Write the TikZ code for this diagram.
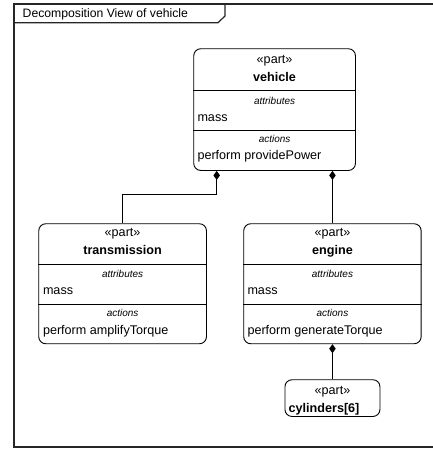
\documentclass[tikz,border=0pt]{standalone}
\usepackage{fontspec}
\setmainfont{Liberation Sans}
\usetikzlibrary{arrows.meta,calc}

\tikzset{
  frameline/.style={draw=black!85, line width=1.2pt},
  partbox/.style={draw=black, line width=0.9pt, rounded corners=7pt,
    anchor=north west, inner sep=0pt},
  divider/.style={draw=black, line width=0.9pt},
  stereo/.style={anchor=mid, inner sep=0pt, font=\fontsize{12.6}{15}\selectfont},
  partname/.style={anchor=mid, inner sep=0pt, font=\fontsize{12.6}{15}\selectfont\bfseries},
  comptitle/.style={anchor=mid, inner sep=0pt, font=\fontsize{10}{12}\selectfont\itshape},
  feature/.style={anchor=mid west, inner sep=0pt, font=\fontsize{12.6}{15}\selectfont},
  composite/.style={{Diamond[length=9pt,width=6.5pt]}-, draw=black, line width=0.9pt}
}

\begin{document}
\begin{tikzpicture}[x=1pt,y=-1pt]
\useasboundingbox (0,0) rectangle (433,450);
\clip (0,0) rectangle (433,450);
\fill[white] (0,0) rectangle (433,450);

% diagram frame and its name tab
\draw[frameline] (440,447) -- (14,447) -- (14,4) -- (440,4);
\draw[frameline] (14,22.7) -- (218,22.7) -- (225,16) -- (225,4);
\node[anchor=mid west, inner sep=0pt, font=\fontsize{12.2}{14}\selectfont] (title)
  at (22.5,15) {Decomposition View of vehicle};

% vehicle
\node[partbox, minimum width=161.7pt, minimum height=121.7pt] (vehicle) at (193.3,48.3) {};
\draw[divider] ($(vehicle.north west)+(0,42.4)$) -- ($(vehicle.north east)+(0,42.4)$);
\draw[divider] ($(vehicle.north west)+(0,81.7)$) -- ($(vehicle.north east)+(0,81.7)$);
\node[stereo]    (vehicle-st)  at ($(vehicle.north)+(0,12.6)$) {«part»};
\node[partname]  (vehicle-nm)  at ($(vehicle.north)+(0,30.5)$) {vehicle};
\node[comptitle] (vehicle-at)  at ($(vehicle.north)+(0,53.4)$) {attributes};
\node[feature]   (vehicle-m)   at ($(vehicle.north west)+(4,70.2)$) {mass};
\node[comptitle] (vehicle-ac)  at ($(vehicle.north)+(0,91.7)$) {actions};
\node[feature]   (vehicle-p)   at ($(vehicle.north west)+(4,108.7)$) {perform providePower};

% transmission
\node[partbox, minimum width=167.7pt, minimum height=120pt] (transmission) at (38.3,223.3) {};
\draw[divider] ($(transmission.north west)+(0,40.7)$) -- ($(transmission.north east)+(0,40.7)$);
\draw[divider] ($(transmission.north west)+(0,80.7)$) -- ($(transmission.north east)+(0,80.7)$);
\node[stereo]    (transmission-st) at ($(transmission.north)+(0,10.5)$) {«part»};
\node[partname]  (transmission-nm) at ($(transmission.north)+(0,29)$) {transmission};
\node[comptitle] (transmission-at) at ($(transmission.north)+(0,51.2)$) {attributes};
\node[feature]   (transmission-m)  at ($(transmission.north west)+(4.5,68.2)$) {mass};
\node[comptitle] (transmission-ac) at ($(transmission.north)+(0,90.8)$) {actions};
\node[feature]   (transmission-p)  at ($(transmission.north west)+(4.5,108.6)$) {perform amplifyTorque};

% engine
\node[partbox, minimum width=177.4pt, minimum height=120pt] (engine) at (243.3,223.3) {};
\draw[divider] ($(engine.north west)+(0,40.7)$) -- ($(engine.north east)+(0,40.7)$);
\draw[divider] ($(engine.north west)+(0,80.7)$) -- ($(engine.north east)+(0,80.7)$);
\node[stereo]    (engine-st) at ($(engine.north)+(0,10.5)$) {«part»};
\node[partname]  (engine-nm) at ($(engine.north)+(0,29)$) {engine};
\node[comptitle] (engine-at) at ($(engine.north)+(0,51.2)$) {attributes};
\node[feature]   (engine-m)  at ($(engine.north west)+(4,68.2)$) {mass};
\node[comptitle] (engine-ac) at ($(engine.north)+(0,90.8)$) {actions};
\node[feature]   (engine-p)  at ($(engine.north west)+(4,108.6)$) {perform generateTorque};

% cylinders
\node[partbox, minimum width=95pt, minimum height=36.7pt] (cylinders) at (284.5,379.3) {};
\node[stereo]   (cylinders-st) at ($(cylinders.north)+(0,12.6)$) {«part»};
\node[anchor=mid west, inner sep=0pt, font=\fontsize{12.6}{15}\selectfont\bfseries]
  (cylinders-nm) at ($(cylinders.north west)+(4,30.5)$) {cylinders[6]};

% composition connectors
\coordinate (vt) at ($(vehicle.south west)+(23.4,0)$);
\draw[composite] (vt) -- ++(0,23.3) -| (transmission.north);
\draw[composite] (vehicle.south -| engine.north) -- (engine.north);
\draw[composite] (engine.south) -- (cylinders.north);
\end{tikzpicture}
\end{document}
